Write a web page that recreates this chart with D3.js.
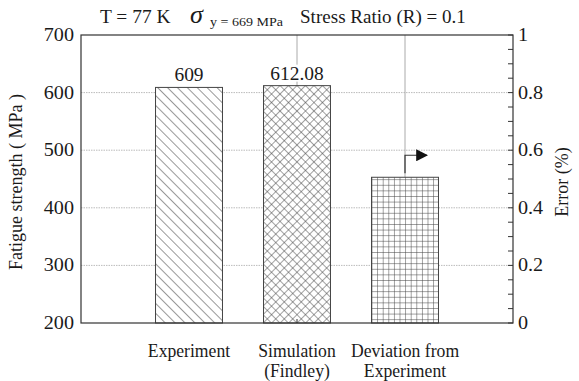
<!DOCTYPE html>
<html>
<head>
<meta charset="utf-8">
<script src="https://cdn.jsdelivr.net/npm/d3@7"></script>
<style>
  html, body { margin: 0; padding: 0; background: #fff; }
  svg { display: block; }
</style>
</head>
<body>
<svg id="chart" width="579" height="381"></svg>
<script>
// Fatigue strength at 77 K: experiment vs. Findley simulation, and their deviation (%)
const categories = [["Experiment"], ["Simulation", "(Findley)"], ["Deviation from", "Experiment"]];
const strengthValues = [609, 612.08];          // MPa, left axis
const strengthLabels = ["609", "612.08"];
const deviationValue = 0.506;                   // %, right axis
const leftTicks = [200, 300, 400, 500, 600, 700];
const rightTicks = [0, 0.2, 0.4, 0.6, 0.8, 1];
const rightMinorTicks = d3.range(0, 1.0001, 0.05);
const gridValues = [300, 400, 500, 600];

const FONT = "'Liberation Serif', 'Times New Roman', Times, serif";
const svg = d3.select("#chart");
const L = 81, R = 513, T = 35, B = 323;
const ink = "#333";

const x = d3.scaleLinear().domain([0, 4]).range([L, R]);
const yL = d3.scaleLinear().domain([200, 700]).range([B, T]);
const yR = d3.scaleLinear().domain([0, 1]).range([B, T]);
const barW = x(0.62) - x(0);

// hatch patterns
const defs = svg.append("defs");
const pDiag = defs.append("pattern").attr("id", "diag").attr("patternUnits", "userSpaceOnUse")
  .attr("width", 7).attr("height", 7).attr("patternTransform", "rotate(-45)");
pDiag.append("rect").attr("width", 7).attr("height", 7).attr("fill", "#fff");
pDiag.append("line").attr("x1", 0).attr("y1", 0).attr("x2", 0).attr("y2", 7)
  .attr("stroke", "#444").attr("stroke-width", 1.1);

const pCross = defs.append("pattern").attr("id", "cross").attr("patternUnits", "userSpaceOnUse")
  .attr("width", 6).attr("height", 6).attr("patternTransform", "rotate(45)");
pCross.append("rect").attr("width", 6).attr("height", 6).attr("fill", "#fff");
pCross.append("line").attr("x1", 0).attr("y1", 0).attr("x2", 0).attr("y2", 6).attr("stroke", "#444").attr("stroke-width", 1);
pCross.append("line").attr("x1", 0).attr("y1", 0).attr("x2", 6).attr("y2", 0).attr("stroke", "#444").attr("stroke-width", 1);

const pGrid = defs.append("pattern").attr("id", "grid").attr("patternUnits", "userSpaceOnUse")
  .attr("width", 5.6).attr("height", 5.6).attr("x", x(3) - barW / 2).attr("y", 0);
pGrid.append("rect").attr("width", 5.6).attr("height", 5.6).attr("fill", "#fff");
pGrid.append("line").attr("x1", 0).attr("y1", 0).attr("x2", 0).attr("y2", 5.6).attr("stroke", "#444").attr("stroke-width", 1);
pGrid.append("line").attr("x1", 0).attr("y1", 0).attr("x2", 5.6).attr("y2", 0).attr("stroke", "#444").attr("stroke-width", 1);

const arrowM = defs.append("marker").attr("id", "arrow").attr("viewBox", "0 0 10 10")
  .attr("refX", 9).attr("refY", 5).attr("markerWidth", 12).attr("markerHeight", 12)
  .attr("markerUnits", "userSpaceOnUse").attr("orient", "auto");
arrowM.append("path").attr("d", "M0,0 L10,5 L0,10 Z").attr("fill", "#111");

// horizontal dotted grid
svg.append("g").selectAll("line").data(gridValues).join("line")
  .attr("x1", L).attr("x2", R).attr("y1", d => yL(d)).attr("y2", d => yL(d))
  .attr("stroke", "#bbb").attr("stroke-width", 1).attr("stroke-dasharray", "1.5,1");

// vertical grid at categories 2 and 3
svg.append("g").selectAll("line").data([2, 3]).join("line")
  .attr("x1", d => x(d)).attr("x2", d => x(d)).attr("y1", T).attr("y2", B)
  .attr("stroke", "#aaa").attr("stroke-width", 1);

// bars
const bars = [
  { c: 1, top: yL(strengthValues[0]), fill: "url(#diag)" },
  { c: 2, top: yL(strengthValues[1]), fill: "url(#cross)" },
  { c: 3, top: yR(deviationValue), fill: "url(#grid)" }
];
svg.append("g").selectAll("rect").data(bars).join("rect")
  .attr("x", d => x(d.c) - barW / 2).attr("width", barW)
  .attr("y", d => d.top).attr("height", d => B - d.top)
  .attr("fill", d => d.fill).attr("stroke", "#444").attr("stroke-width", 1);

// text helper: serif, optionally widened
function stretchedText(g, tx, ty, str, size, anchor, sx, italic) {
  return g.append("text").attr("transform", `translate(${tx},${ty}) scale(${sx || 1},1)`)
    .attr("text-anchor", anchor || "middle")
    .attr("font-family", FONT).attr("font-size", size).attr("fill", "#1a1a1a")
    .attr("font-style", italic ? "italic" : "normal")
    .text(str);
}

// value labels
strengthValues.forEach((v, i) => {
  const lx = x(i + 1), ly = yL(v) - 6;
  const bw = strengthLabels[i].length * 9 + 6;
  svg.append("rect").attr("x", lx - bw / 2).attr("y", ly - 15).attr("width", bw).attr("height", 17).attr("fill", "#fff");
  stretchedText(svg, lx, ly, strengthLabels[i], 18, "middle", 1.08);
});

// arrow pointing to the right axis
const aX = x(3), aY = yR(deviationValue) - 22;
svg.append("path")
  .attr("d", `M${aX},${yR(deviationValue) - 4} L${aX},${aY} L${aX + 22},${aY}`)
  .attr("fill", "none").attr("stroke", "#333").attr("stroke-width", 1.2)
  .attr("marker-end", "url(#arrow)");

// frame
svg.append("rect").attr("x", L).attr("y", T).attr("width", R - L).attr("height", B - T)
  .attr("fill", "none").attr("stroke", ink).attr("stroke-width", 1.2);

// right axis ticks (inward)
svg.append("g").selectAll("line").data(rightMinorTicks).join("line")
  .attr("x1", R - 5).attr("x2", R).attr("y1", d => yR(d)).attr("y2", d => yR(d))
  .attr("stroke", ink).attr("stroke-width", 1);
// bottom tick at category 2
svg.append("line").attr("x1", x(2)).attr("x2", x(2)).attr("y1", B).attr("y2", B - 4)
  .attr("stroke", ink).attr("stroke-width", 1);

// tick labels
leftTicks.forEach(t => stretchedText(svg, 74, yL(t) + 6, String(t), 18, "end", 1.12));
rightTicks.forEach(t => stretchedText(svg, 518, yR(t) + 6, String(t), 18, "start", 1.12));

// category labels
categories.forEach((lines, i) => {
  lines.forEach((s, j) => stretchedText(svg, x(i + 1), 357 + j * 20, s, 18, "middle", 0.98));
});

// axis titles
svg.append("text").attr("transform", `translate(22,182) rotate(-90)`)
  .attr("text-anchor", "middle").attr("font-family", FONT).attr("font-size", 18).attr("fill", "#1a1a1a")
  .text("Fatigue strength ( MPa )");
svg.append("text").attr("transform", `translate(568,182) rotate(-90)`)
  .attr("text-anchor", "middle").attr("font-family", FONT).attr("font-size", 18).attr("fill", "#1a1a1a")
  .text("Error (%)");

// header line
const head = svg.append("g");
stretchedText(head, 100, 23, "T = 77 K", 18, "start", 1.08);
stretchedText(head, 190, 23, "σ", 25, "start", 1.05, true);
stretchedText(head, 210, 26, "y = 669 MPa", 13, "start", 1.08);
stretchedText(head, 300, 23, "Stress Ratio (R) = 0.1", 18, "start", 1.06);
</script>
</body>
</html>
